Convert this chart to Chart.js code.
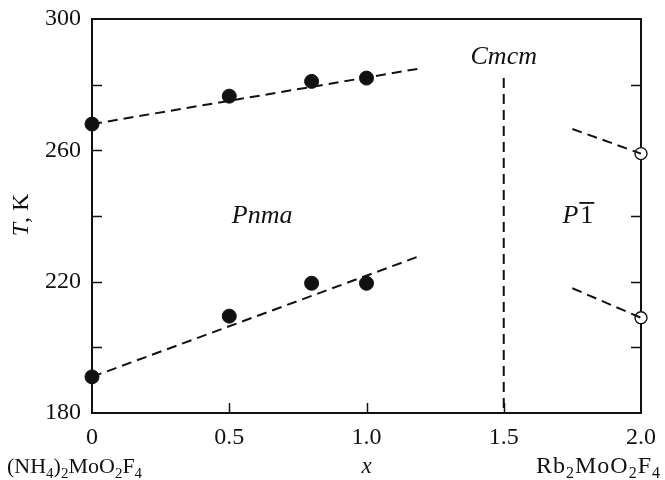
<!DOCTYPE html>
<html>
<head>
<meta charset="utf-8">
<script src="https://cdn.jsdelivr.net/npm/chart.js@4"></script>
<style>
  html, body { margin: 0; padding: 0; background: #fff; }
  #wrap { width: 665px; height: 480px; position: relative; }
</style>
</head>
<body>
<div id="wrap"><canvas id="phaseChart"></canvas></div>
<script>
// Measured phase transition temperatures, (NH4)2MoO2F4 - Rb2MoO2F4 system
var xMixed = [0, 0.5, 0.8, 1.0];
var tUpper = [268, 276.5, 281, 282];
var tLower = [191, 209.5, 219.5, 219.5];
var xRb = [2.0, 2.0];
var tRb = [259, 209];

// Dashed guide lines (end points)
var upperFitX = [0, 1.2];
var upperFitT = [268, 285];
var lowerFitX = [0, 1.2];
var lowerFitT = [191, 228];
var boundaryX = [1.5, 1.5];
var boundaryT = [282, 180];
var rbUpperX = [1.75, 2.0];
var rbUpperT = [266.5, 259];
var rbLowerX = [1.75, 2.0];
var rbLowerT = [218, 209];

// Axes
var xTicks = [0, 0.5, 1.0, 1.5, 2.0];
var yLabelTicks = [180, 220, 260, 300];
var yTickMarks = [200, 220, 240, 260, 280];
var yTickMarksRight = [200, 220, 240, 280];
var xTickMarks = [0.5, 1.0, 1.5];

// Phase labels
var phaseLabels = [
    {text: "Cmcm", x: 1.5, y: 288.5},
    {text: "Pnma", x: 0.62, y: 240},
    {text: "P1", x: 1.77, y: 240, bar: true}
];

var SERIF = "'Liberation Serif', 'DejaVu Serif', serif";

function toPoints(xs, ys) {
    return xs.map(function (x, i) { return {x: x, y: ys[i]}; });
}

function dashed(xs, ys) {
    return {
        type: "line",
        data: toPoints(xs, ys),
        borderColor: "#111",
        borderWidth: 2,
        borderDash: [10, 6],
        pointRadius: 0,
        fill: false,
        clip: false
    };
}

// Draw a run of text pieces, some of them as subscripts.
function drawRich(ctx, parts, x, y, align, size, spacing) {
    var subSize = Math.round(size * 0.68);
    var gap = spacing || 0;
    ctx.letterSpacing = gap + "px";
    var total = 0;
    parts.forEach(function (p) {
        ctx.font = (p.sub ? subSize : size) + "px " + SERIF;
        total += ctx.measureText(p.t).width;
    });
    var cx = align === "right" ? x - total : x;
    ctx.textAlign = "left";
    ctx.textBaseline = "alphabetic";
    parts.forEach(function (p) {
        ctx.font = (p.sub ? subSize : size) + "px " + SERIF;
        ctx.fillText(p.t, cx, p.sub ? y + 5 : y);
        cx += ctx.measureText(p.t).width;
    });
    ctx.letterSpacing = "0px";
}

var decorPlugin = {
    id: "decor",
    beforeDatasetsDraw: function (chart) {
        var ctx = chart.ctx;
        var a = chart.chartArea;
        var xs = chart.scales.x;
        var ys = chart.scales.y;
        ctx.save();
        ctx.strokeStyle = "#111";
        ctx.lineWidth = 2;
        ctx.strokeRect(a.left, a.top, a.right - a.left, a.bottom - a.top);
        ctx.beginPath();
        yTickMarks.forEach(function (v) {
            var py = Math.round(ys.getPixelForValue(v)) + 0.5;
            ctx.moveTo(a.left, py);
            ctx.lineTo(a.left + 10, py);
        });
        yTickMarksRight.forEach(function (v) {
            var py = Math.round(ys.getPixelForValue(v)) + 0.5;
            ctx.moveTo(a.right, py);
            ctx.lineTo(a.right - 10, py);
        });
        xTickMarks.forEach(function (v) {
            var px = Math.round(xs.getPixelForValue(v)) + 0.5;
            ctx.moveTo(px, a.bottom);
            ctx.lineTo(px, a.bottom - 10);
        });
        ctx.lineWidth = 1.5;
        ctx.stroke();
        ctx.restore();
    },
    afterDraw: function (chart) {
        var ctx = chart.ctx;
        var xs = chart.scales.x;
        var ys = chart.scales.y;
        ctx.save();
        ctx.fillStyle = "#111";

        // Phase names inside the plot
        var fs = 26;
        ctx.textBaseline = "middle";
        phaseLabels.forEach(function (p) {
            var px = xs.getPixelForValue(p.x);
            var py = ys.getPixelForValue(p.y);
            if (p.bar) {
                ctx.font = "italic " + fs + "px " + SERIF;
                var wP = ctx.measureText("P").width;
                ctx.font = fs + "px " + SERIF;
                var w1 = ctx.measureText("1").width;
                var start = px - (wP + w1 + 2) / 2;
                ctx.textAlign = "left";
                ctx.font = "italic " + fs + "px " + SERIF;
                ctx.fillText("P", start, py);
                ctx.font = fs + "px " + SERIF;
                ctx.fillText("1", start + wP + 2, py);
                ctx.fillRect(start + wP + 1, py - 14, w1 + 2, 1.8);
            } else {
                ctx.textAlign = "center";
                ctx.font = "italic " + fs + "px " + SERIF;
                ctx.fillText(p.text, px, py);
            }
        });

        // Y axis title "T, K"
        ctx.save();
        ctx.translate(22, 215);
        ctx.rotate(-Math.PI / 2);
        ctx.textBaseline = "middle";
        ctx.textAlign = "left";
        ctx.font = "italic 24px " + SERIF;
        var wT = ctx.measureText("T").width;
        ctx.font = "24px " + SERIF;
        var wK = ctx.measureText(", K").width;
        var sx = -(wT + wK) / 2;
        ctx.font = "italic 24px " + SERIF;
        ctx.fillText("T", sx, 0);
        ctx.font = "24px " + SERIF;
        ctx.fillText(", K", sx + wT, 0);
        ctx.restore();

        // Bottom row: end members and x
        var base = 473;
        drawRich(ctx, [
            {t: "(NH"}, {t: "4", sub: true}, {t: ")"}, {t: "2", sub: true},
            {t: "MoO"}, {t: "2", sub: true}, {t: "F"}, {t: "4", sub: true}
        ], 7, base, "left", 22, 0);
        drawRich(ctx, [
            {t: "Rb"}, {t: "2", sub: true}, {t: "MoO"}, {t: "2", sub: true},
            {t: "F"}, {t: "4", sub: true}
        ], 661, base, "right", 24, 1);
        ctx.font = "italic 23px " + SERIF;
        ctx.textAlign = "center";
        ctx.textBaseline = "alphabetic";
        ctx.fillText("x", xs.getPixelForValue(1.0), base);
        ctx.restore();
    }
};

var ctx = document.getElementById("phaseChart").getContext("2d");
new Chart(ctx, {
    type: "scatter",
    data: {
        datasets: [
            dashed(upperFitX, upperFitT),
            dashed(lowerFitX, lowerFitT),
            dashed(boundaryX, boundaryT),
            dashed(rbUpperX, rbUpperT),
            dashed(rbLowerX, rbLowerT),
            {
                data: toPoints(xMixed, tUpper),
                pointRadius: 7,
                pointBackgroundColor: "#111",
                pointBorderColor: "#111",
                clip: false
            },
            {
                data: toPoints(xMixed, tLower),
                pointRadius: 7,
                pointBackgroundColor: "#111",
                pointBorderColor: "#111",
                clip: false
            },
            {
                data: toPoints(xRb, tRb),
                pointRadius: 6,
                pointBackgroundColor: "#fff",
                pointBorderColor: "#111",
                pointBorderWidth: 1.4,
                clip: false
            }
        ]
    },
    options: {
        responsive: true,
        maintainAspectRatio: false,
        animation: false,
        layout: {padding: {top: 19, right: 24, left: 0, bottom: 0}},
        plugins: {
            legend: {display: false},
            tooltip: {enabled: false}
        },
        scales: {
            x: {
                type: "linear",
                min: 0,
                max: 2,
                border: {display: false},
                grid: {display: false, drawTicks: false},
                afterBuildTicks: function (scale) {
                    scale.ticks = xTicks.map(function (v) { return {value: v}; });
                },
                afterFit: function (scale) {
                    scale.height = 67;
                    scale.paddingRight = 0;
                    scale.paddingLeft = 0;
                },
                ticks: {
                    color: "#111",
                    padding: 10,
                    maxRotation: 0,
                    font: {family: SERIF, size: 24},
                    callback: function (v) { return v === 0 ? "0" : v.toFixed(1); }
                }
            },
            y: {
                type: "linear",
                min: 180,
                max: 300,
                border: {display: false},
                grid: {display: false, drawTicks: false},
                afterBuildTicks: function (scale) {
                    scale.ticks = yLabelTicks.map(function (v) { return {value: v}; });
                },
                afterFit: function (scale) {
                    scale.width = 92;
                    scale.paddingTop = 0;
                    scale.paddingBottom = 0;
                },
                ticks: {
                    color: "#111",
                    padding: 11,
                    font: {family: SERIF, size: 24}
                }
            }
        }
    },
    plugins: [decorPlugin]
});
</script>
</body>
</html>
